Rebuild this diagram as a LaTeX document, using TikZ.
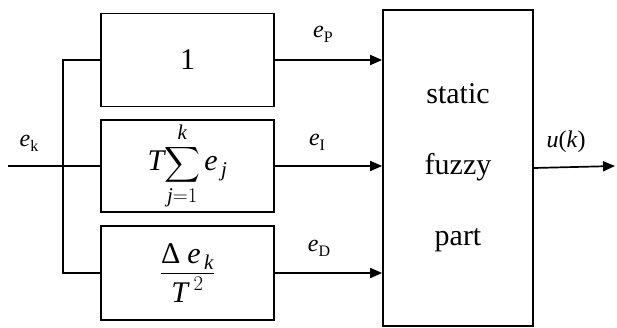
\documentclass[tikz,border=0pt]{standalone}
\usepackage{amsmath}
\usepackage{fontspec}
\setmainfont{Liberation Serif}
\usetikzlibrary{arrows.meta}
\begin{document}
\begin{tikzpicture}[x=1pt,y=-1pt,line width=1.7pt,
  blk/.style={draw,minimum width=173pt,inner sep=0pt,font=\fontsize{30}{34}\selectfont},
  lbl/.style={font=\fontsize{24}{26}\selectfont,inner sep=0pt},
  sub/.style={font=\fontsize{16}{16}\selectfont},
  arr/.style={-{Triangle[length=12pt,width=10pt]}}]
\useasboundingbox (0,0) rectangle (617,328);
\node[blk,minimum height=93pt] (b1) at (187.5,60) {1};
\node[blk,minimum height=92pt] (b2) at (187.5,166) {$\displaystyle\textit{T}\!\sum_{\textit{j}=1}^{\textit{k}}\textit{e}_{\,\textit{j}}$};
\node[blk,minimum height=94pt] (b3) at (187.5,273) {$\dfrac{\text{Δ}\;\textit{e}_{\,\textit{k}}}{\textit{T}^{\;2}}$};
\node[draw,minimum width=150pt,minimum height=316pt,inner sep=0pt,align=center,font=\fontsize{30}{71}\selectfont] (f) at (458,168) {static\\fuzzy\\part};
\coordinate (in) at (8,166);
\coordinate (j) at (63,166);
\coordinate (out) at (615,166);
\draw (in) -- (b2.west);
\draw (b1.west) -- (b1.west -| j) |- (b3.west);
\draw[arr] (b1.east) -- (b1.east -| f.west);
\draw[arr] (b2.east) -- (b2.east -| f.west);
\draw[arr] (b3.east) -- (b3.east -| f.west);
\draw[arr] (f.east) -- (out);
\node[lbl] (lk) at (29,143) {\textit{e}\raisebox{-5pt}{\fontsize{16}{16}\selectfont k}};
\node[lbl] (lp) at (323,34) {\textit{e}\raisebox{-5pt}{\fontsize{16}{16}\selectfont P}};
\node[lbl] (li) at (317,142) {\textit{e}\raisebox{-5pt}{\fontsize{16}{16}\selectfont I}};
\node[lbl] (ld) at (319,248) {\textit{e}\raisebox{-5pt}{\fontsize{16}{16}\selectfont D}};
\node[lbl] (lu) at (566,142) {\textit{u}(\textit{k})};
\end{tikzpicture}
\end{document}
